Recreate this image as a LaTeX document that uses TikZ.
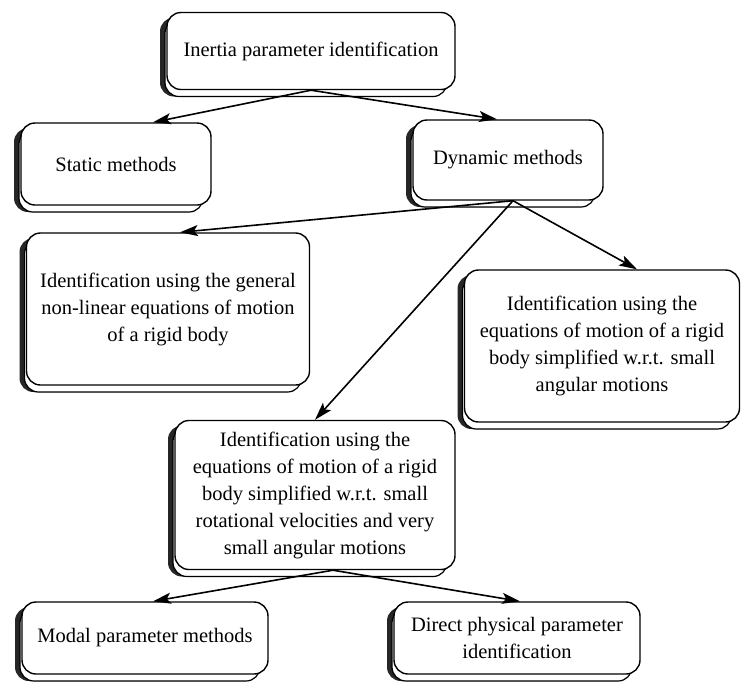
\documentclass[tikz,border=0pt]{standalone}
\usepackage{fontspec}
\setmainfont{Liberation Serif}
\usetikzlibrary{arrows.meta}
\begin{document}
\begin{tikzpicture}[x=1pt,y=-1pt,
  box/.style={draw=black, line width=1.4pt, rounded corners=14pt, fill=white,
    align=center, inner sep=0pt, font=\fontsize{20.5}{27}\selectfont},
  conn/.style={line width=1.6pt, -{Stealth[length=18pt,width=11pt,inset=4pt]}}]
\useasboundingbox (0,0) rectangle (741,686);
\newcommand{\shbox}[6]{%
  % #1 name, #2 cx, #3 cy, #4 w, #5 h, #6 text
  \fill[black!85, rounded corners=14pt] (#2-#4/2-7,#3-#5/2+5) rectangle (#2+#4/2-8,#3+#5/2+7);
  \draw[line width=1.2pt, fill=white, rounded corners=14pt] (#2-#4/2-2,#3-#5/2+7) rectangle (#2+#4/2-8,#3+#5/2+7);
  \node[box, minimum width=#4pt, minimum height=#5pt] (#1) at (#2,#3) {#6};
}
\shbox{top}{311}{51}{288}{77}{Inertia parameter identification}
\shbox{static}{116}{164}{190}{82}{Static methods}
\shbox{dyn}{508}{160}{190}{80}{Dynamic methods}
\shbox{gen}{168}{309}{283}{152}{Identification using the general\\non-linear equations of motion\\of a rigid body}
\shbox{ang}{602}{346}{275}{152}{Identification using the\\equations of motion of a rigid\\body simplified w.r.t. small\\angular motions}
\shbox{mid}{315}{495}{280}{149}{Identification using the\\equations of motion of a rigid\\body simplified w.r.t. small\\rotational velocities and very\\small angular motions}
\shbox{modal}{145}{638}{246}{72}{Modal parameter methods}
\shbox{direct}{517}{638}{246}{72}{Direct physical parameter\\identification}
\draw[conn] (top.south) -- ([xshift=37pt]static.north);
\draw[conn] (top.south) -- ([xshift=-11pt]dyn.north);
\draw[conn] ([xshift=5pt]dyn.south) -- ([xshift=12pt]gen.north);
\draw[conn] ([xshift=5pt]dyn.south) -- ([xshift=35pt]ang.north);
\draw[conn] ([xshift=5pt]dyn.south) -- (mid.north);
\draw[conn] ([xshift=18pt]mid.south) -- ([xshift=8pt]modal.north);
\draw[conn] ([xshift=18pt]mid.south) -- ([xshift=3pt]direct.north);
\end{tikzpicture}
\end{document}
